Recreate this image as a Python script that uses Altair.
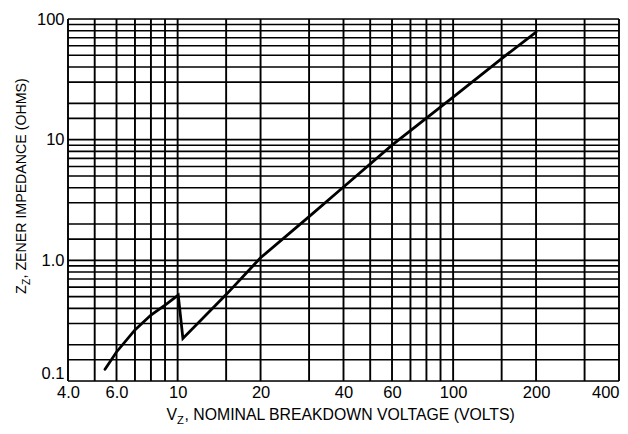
import altair as alt
import pandas as pd

# Curve (Vz volts, Zz ohms)
vz = [5.45, 6.0, 7.0, 8.0, 9.0, 10.05, 10.45, 15.0, 20.0, 30.0, 40.0, 60.0, 100.0, 150.0, 200.0]
zz = [0.125, 0.174, 0.265, 0.352, 0.426, 0.515, 0.225, 0.52, 1.05, 2.3, 4.05, 9.0, 22.5, 47.0, 78.0]

# grid lines
x_grid = [4, 5, 6, 7, 8, 9, 10, 15, 20, 30, 40, 50, 60, 70, 80, 90, 100, 150, 200, 300, 400]
y_grid = [0.1, 0.15, 0.2, 0.3, 0.4, 0.5, 0.6, 0.7, 0.8, 0.9,
          1, 1.5, 2, 3, 4, 5, 6, 7, 8, 9,
          10, 15, 20, 30, 40, 50, 60, 70, 80, 90, 100]

# tick labels
x_ticks = [4, 6, 10, 20, 40, 60, 100, 200, 400]
y_ticks = [0.1, 1, 10, 100]

FONT = "Liberation Sans"
W, H = 551, 362

xs = alt.Scale(type="log", domain=[4, 400], nice=False)
ys = alt.Scale(type="log", domain=[0.1, 100], nice=False)

x_axis = alt.Axis(values=x_ticks, grid=False, ticks=False, domain=False,
                  labelExpr="datum.value < 10 ? format(datum.value, '.1f') : format(datum.value, 'd')",
                  labelFont=FONT, labelFontSize=16.5, labelColor="black", labelPadding=3,
                  labelFlush=False,
                  labelAlign=alt.expr("datum.value == 400 ? 'right' : 'center'"),
                  title=None, labelOverlap=False)
y_axis = alt.Axis(values=y_ticks, grid=False, ticks=False, domain=False,
                  labelExpr="datum.value < 10 ? format(datum.value, '.1f') : format(datum.value, 'd')",
                  labelFont=FONT, labelFontSize=16.5, labelColor="black", labelPadding=4,
                  labelFlush=False,
                  labelBaseline=alt.expr("datum.value == 0.1 ? 'bottom' : 'middle'"),
                  title=None, labelOverlap=False)

vgrid = alt.Chart(pd.DataFrame({"x": x_grid})).mark_rule(color="black", strokeWidth=1.9).encode(
    x=alt.X("x:Q", scale=xs, axis=x_axis))
hgrid = alt.Chart(pd.DataFrame({"y": y_grid})).mark_rule(color="black", strokeWidth=1.6).encode(
    y=alt.Y("y:Q", scale=ys, axis=y_axis))

curve = alt.Chart(pd.DataFrame({"vz": vz, "zz": zz, "i": list(range(len(vz)))})).mark_line(
    color="black", strokeWidth=2.8, strokeJoin="miter", strokeCap="round").encode(
    x=alt.X("vz:Q", scale=xs),
    y=alt.Y("zz:Q", scale=ys),
    order="i:Q")

# axis titles with subscripts
def txt(t, x, y, size, align="left", angle=0):
    return alt.Chart(pd.DataFrame({"a": [0]})).mark_text(
        text=t, font=FONT, fontSize=size, color="black", align=align,
        baseline="alphabetic", angle=angle).encode(x=alt.value(x), y=alt.value(y))

xt1 = txt("V", 109, 401, 15.8, align="right")
xt2 = txt("Z", 109, 405, 11.2)
xt3 = txt(", NOMINAL BREAKDOWN VOLTAGE (VOLTS)", 116.5, 401, 15.8)

yt1 = txt("Z", -42, 275, 14.2, angle=270)
yt2 = txt("Z", -38.5, 266, 10.3, angle=270)
yt3 = txt(", ZENER IMPEDANCE (OHMS)", -42, 259.5, 14.2, angle=270)

chart = alt.layer(vgrid, hgrid, curve, xt1, xt2, xt3, yt1, yt2, yt3).properties(
    width=W, height=H,
    autosize=alt.AutoSizeParams(type="none"),
    padding={"left": 60, "top": 11, "right": 1, "bottom": 45},
).configure_view(stroke=None).configure(background="white")

chart.save("out.html", embed_options={"renderer": "svg", "actions": False})
